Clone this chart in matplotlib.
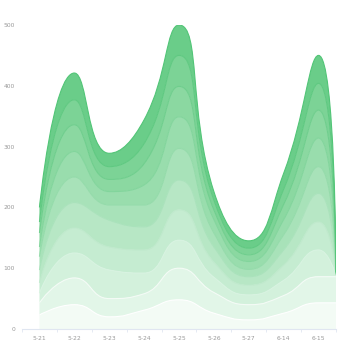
import numpy as np
import matplotlib
matplotlib.use("Agg")
import matplotlib.pyplot as plt
from matplotlib.path import Path
from matplotlib.patches import PathPatch

# categories on the x axis; the series carry one extra point that sits
# on the right edge of the plot area
categories = ['5-21', '5-22', '5-23', '5-24', '5-25', '5-26', '5-27', '6-14', '6-15']

# stacked series, bottom to top
s1 = [23, 40, 20, 31, 48, 26, 15, 26, 43, 43]
s2 = [20, 44, 30, 27, 52, 34, 25, 29, 43, 43]
s3 = [16, 41, 47, 34, 46, 25, 16, 25, 44, 1]
s4 = [17, 41, 38, 38, 50, 25, 16, 25, 46, 1]
s5 = [21, 42, 44, 38, 49, 25, 14, 25, 47, 1]
s6 = [22, 42, 25, 36, 52, 23, 12, 25, 44, 1]
s7 = [16, 42, 22, 33, 52, 22, 13, 25, 47, 1]
s8 = [23, 44, 20, 35, 50, 16, 11, 25, 46, 1]
s9 = [18, 41, 21, 33, 51, 16, 11, 25, 44, 1]
s10 = [24, 44, 22, 39, 50, 14, 12, 26, 46, 1]
series = [s1, s2, s3, s4, s5, s6, s7, s8, s9, s10]

fill_colors = ['#f3fbf5', '#e2f6e8', '#d3f1dc', '#c5ecd1', '#b7e7c5',
               '#a8e2b9', '#99ddad', '#8bd8a1', '#7cd396', '#6acd89']
line_colors = ['#ffffff', '#f4fbf6', '#d8f3e1', '#bfe9cc', '#a9e2bb',
               '#94dbaa', '#82d59c', '#6fce8d', '#5fc981', '#52c577']

SX, SY = 35.0, 0.608  # pixels per unit, the smoothing works in pixels


def smooth_curve(xs, ys, smooth=0.5):
    """bezier vertices for a smooth line, control points kept inside
    the range of the neighbours (no overshoot), like echarts"""
    px = np.asarray(xs, float) * SX
    py = np.asarray(ys, float) * SY
    n = len(px)
    verts = [(px[0], py[0])]
    cp0 = (px[0], py[0])
    for i in range(1, n):
        x, y = px[i], py[i]
        prx, pry = px[i - 1], py[i - 1]
        if i == n - 1:
            cp1 = (x, y)
            nxt0 = (x, y)
        else:
            nx, ny = px[i + 1], py[i + 1]
            vx, vy = nx - prx, ny - pry
            lp = np.hypot(x - prx, y - pry)
            ln = np.hypot(nx - x, ny - y)
            r = ln / (ln + lp)
            ncx = x + vx * smooth * r
            ncy = y + vy * smooth * r
            ncx = min(max(ncx, min(nx, x)), max(nx, x))
            ncy = min(max(ncy, min(ny, y)), max(ny, y))
            vx, vy = ncx - x, ncy - y
            c1x = x - vx * lp / ln
            c1y = y - vy * lp / ln
            c1x = min(max(c1x, min(prx, x)), max(prx, x))
            c1y = min(max(c1y, min(pry, y)), max(pry, y))
            vx, vy = x - c1x, y - c1y
            ncx = x + vx * ln / lp
            ncy = y + vy * ln / lp
            cp1 = (c1x, c1y)
            nxt0 = (ncx, ncy)
        verts += [cp0, cp1, (x, y)]
        cp0 = nxt0
    v = np.array(verts)
    v[:, 0] /= SX
    v[:, 1] /= SY
    return v


fig = plt.figure(figsize=(3.5, 3.5), dpi=100)
ax = fig.add_axes([22 / 350, 21 / 350, 314 / 350, 304 / 350])

xmax = len(categories) - 0.5
x = np.append(np.arange(len(categories)), xmax)
cum = np.cumsum(np.array(series), axis=0)
lower = smooth_curve(x, np.zeros(len(x)))

for k in range(len(series)):
    upper = smooth_curve(x, cum[k])
    nseg = (len(upper) - 1)
    verts = np.vstack([upper, lower[::-1], upper[:1]])
    codes = ([Path.MOVETO] + [Path.CURVE4] * nseg + [Path.LINETO]
             + [Path.CURVE4] * nseg + [Path.CLOSEPOLY])
    ax.add_patch(PathPatch(Path(verts, codes), facecolor=fill_colors[k],
                           edgecolor='none', zorder=2 + k * 0.01))
    lcodes = [Path.MOVETO] + [Path.CURVE4] * nseg
    ax.add_patch(PathPatch(Path(upper, lcodes), facecolor='none',
                           edgecolor=line_colors[k], lw=0.8, zorder=3))
    lower = upper

ax.set_xlim(-0.5, xmax)
ax.set_ylim(0, 500)
ax.set_yticks(range(0, 501, 100))
ax.set_xticks(range(len(categories)))
ax.set_xticklabels(categories)
ax.set_xticks(np.arange(-0.5, len(categories), 1), minor=True)
ax.tick_params(axis='x', which='major', length=0, pad=5, labelsize=4.3, colors='#999999')
ax.tick_params(axis='x', which='minor', length=2.5, color='#e0e6f1', width=0.6)
ax.tick_params(axis='y', length=0, pad=5, labelsize=4.3, colors='#999999')
for side in ['top', 'right', 'left']:
    ax.spines[side].set_visible(False)
ax.spines['bottom'].set_color('#e0e6f1')
ax.spines['bottom'].set_linewidth(0.8)
ax.spines['bottom'].set_zorder(5)

fig.savefig('out.png', dpi=100)
